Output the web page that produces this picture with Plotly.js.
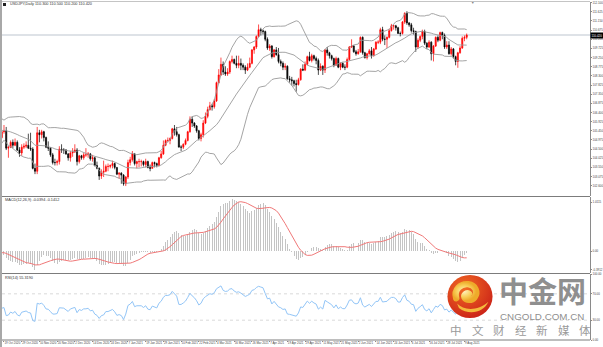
<!DOCTYPE html>
<html><head><meta charset="utf-8">
<script src="https://cdn.plot.ly/plotly-3.0.1.min.js"></script>
<style>html,body{margin:0;padding:0;background:#fff;}#chart{width:603px;height:347px;}</style>
</head><body><div id="chart"></div>
<script>
// USDJPY daily, 40 warm-up bars (24 Aug - 16 Oct 2020) then visible bars 19 Oct 2020 - 10 Aug 2021
const openP = [
105.80,105.95,106.35,105.95,106.55, 105.35,105.90,105.95,106.15,106.20, 106.25,106.25,105.95,106.10,106.15, 106.15,105.70,105.45,104.95,104.75,
104.55,104.65,104.95,105.40,105.40, 105.55,105.50,105.65,105.50,105.50, 105.30,105.75,105.70,106.00,106.00, 105.60,105.30,105.45,105.10,105.10,
105.40,105.45,104.55,104.60,104.85, 104.70,104.85,104.45,104.30,104.60, 104.65,104.70,104.55,104.50,103.50, 103.35,105.35,105.25,105.40,105.10,
104.60,104.55,104.20,103.80,103.80, 103.85,104.50,104.45,104.45,104.25, 104.05,104.30,104.35,104.45,103.85, 104.15,104.05,104.20,104.20,104.25,
104.00,104.05,103.65,103.50,103.10, 103.30,103.35,103.60,103.60, 103.65,103.75,103.55,103.20,
103.25,103.15,102.70,103.05,103.80, 103.95,104.25,103.75,103.85,103.85, 103.85,103.70,103.85,103.55,103.50, 103.80,103.75,103.65,104.05,104.25,
104.70,104.95,104.95,105.05,105.55, 105.40,105.25,104.60,104.60,104.75, 104.95,105.40,106.05,105.85,105.70, 105.45,105.05,105.25,105.85,106.20,
106.55,106.75,106.70,107.00,107.95, 108.35,108.90,108.50,108.40,108.50, 109.05,109.15,108.95,108.85,108.95, 108.85,108.75,108.60,108.75,108.95,
109.65,109.80,110.35,110.70,110.65, 110.60,110.20,109.75,109.85,109.30, 109.65,109.40,109.05,108.95,108.75, 108.80,108.15,108.10,108.05,107.90,
107.85,108.10,108.65,108.60,108.90, 109.30,109.10,109.35,109.20,109.10, 108.60,108.80,108.60,109.65,109.50, 109.35,109.20,108.85,109.20,108.75,
108.95,108.75,108.75,109.15,109.80, 109.85,109.55,109.45,109.55,110.30, 109.50,109.25,109.45,109.60,109.35, 109.70,110.05,110.05,110.70,110.20,
110.20,110.30,110.65,110.90,110.90, 110.80,110.50,110.50,111.10,111.55, 111.05,110.95,110.65,110.60,109.80, 110.15,110.35,110.60,110.00,109.80,
110.05,109.45,109.85,110.30,110.15, 110.55,110.40,109.80,109.90,109.45, 109.70,109.30,109.05,109.50,109.75, 110.25,110.30];
const highP = [
106.10,106.45,106.45,106.95,106.60, 105.95,106.00,106.25,106.55,106.50, 106.35,106.40,106.30,106.25,106.25, 106.20,105.75,105.50,104.95,104.80,
104.75,105.05,105.45,105.50,105.70, 105.70,105.80,105.75,105.70,105.70, 105.80,105.80,106.10,106.10,106.05, 105.75,105.55,105.50,105.30,105.50,
105.75,105.65,104.65,104.95,105.00, 105.05,104.95,104.60,104.75,104.80, 104.90,105.30,105.35,104.60,103.75, 105.65,105.50,105.50,105.45,105.15,
104.90,104.60,104.30,104.00,103.95, 104.65,104.75,104.55,104.50,104.30, 104.40,104.55,104.75,104.55,104.20, 104.20,104.30,104.55,104.35,104.30,
104.20,104.10,103.85,103.55,103.45, 103.90,103.70,103.75,103.70, 103.90,103.80,103.55,103.30,
103.30,103.20,103.10,103.95,104.10, 104.40,104.30,103.90,104.00,103.95, 103.90,104.00,103.90,103.70,103.85, 103.85,103.80,104.10,104.40,104.95,
105.00,105.10,105.10,105.60,105.75, 105.65,105.30,104.70,104.80,105.05, 105.45,106.20,106.20,105.90,105.75, 105.50,105.35,106.00,106.40,106.70,
106.95,106.85,107.10,108.00,108.65, 109.25,109.05,108.80,108.70,109.10, 109.35,109.20,109.35,109.35,109.20, 108.95,108.85,108.95,109.25,109.70,
109.85,110.40,110.97,110.80,110.70, 110.65,110.30,109.95,109.90,109.70, 109.80,109.75,109.15,109.05,108.95, 108.85,108.30,108.25,108.10,108.10,
108.20,108.70,108.90,109.05,109.35, 109.55,109.45,109.40,109.30,109.20, 108.95,108.85,109.70,109.80,109.55, 109.40,109.25,109.30,109.25,109.00,
109.00,108.90,109.25,109.85,110.20, 109.90,109.65,109.70,110.35,110.35, 109.55,109.50,109.70,109.80,109.75, 110.10,110.15,110.80,110.85,110.40,
110.35,110.75,111.00,110.95,110.95, 110.85,110.60,111.15,111.60,111.66, 111.10,111.05,110.80,110.65,110.25, 110.40,110.70,110.70,110.05,110.15,
110.10,109.90,110.35,110.40,110.60, 110.60,110.50,110.10,110.10,109.80, 109.75,109.35,109.55,109.85,110.35, 110.40,110.50];
const lowP = [
105.60,105.80,105.90,105.75,105.20, 105.10,105.60,105.85,106.05,106.00, 106.15,105.90,105.90,105.90,106.05, 105.65,105.30,104.85,104.55,104.30,
104.00,104.55,104.90,105.20,105.25, 105.30,105.45,105.35,105.40,104.95, 105.30,105.50,105.60,105.85,105.55, 105.30,105.25,105.00,104.85,105.05,
105.30,104.45,104.05,104.55,104.55, 104.65,104.40,104.10,104.15,104.50, 104.55,104.50,104.40,103.45,103.20, 103.20,104.85,105.05,104.90,104.55,
104.40,104.10,103.70,103.65,103.65, 103.70,104.30,104.25,104.20,103.90, 103.85,104.10,104.30,103.65,103.75, 103.95,103.95,104.10,104.05,103.90,
103.85,103.60,103.45,102.90,102.95, 103.05,103.30,103.35,103.50, 103.50,103.45,103.15,102.95,
102.70,102.60,102.58,102.95,103.65, 103.85,103.65,103.50,103.55,103.60, 103.60,103.55,103.50,103.35,103.50, 103.55,103.55,103.60,104.00,104.20,
104.65,104.85,104.75,105.00,105.20, 105.15,104.60,104.40,104.50,104.70, 104.90,105.35,105.65,105.60,105.35, 104.95,104.90,105.10,105.80,106.10,
106.50,106.50,106.60,106.95,107.90, 108.30,108.35,108.30,108.30,108.40, 108.95,108.90,108.70,108.70,108.60, 108.60,108.40,108.55,108.70,108.90,
109.45,109.70,110.30,110.40,110.45, 110.10,109.65,109.60,109.20,109.25, 109.35,108.95,108.80,108.60,108.60, 108.10,107.95,107.80,107.75,107.48,
107.80,108.05,108.55,108.55,108.85, 109.05,109.00,109.10,108.90,108.35, 108.55,108.35,108.45,109.35,109.20, 109.10,108.75,108.85,108.70,108.60,
108.70,108.60,108.70,109.10,109.75, 109.50,109.35,109.40,109.50,109.40, 109.20,109.15,109.40,109.20,109.30, 109.65,109.95,109.95,110.10,109.90,
109.75,110.25,110.60,110.70,110.65, 110.50,110.35,110.45,111.00,110.95, 110.85,110.55,110.45,109.55,109.70, 110.05,110.20,109.90,109.70,109.75,
109.10,109.05,109.80,110.05,110.10, 110.20,109.70,109.70,109.40,109.35, 109.20,108.85,108.72,109.45,109.70, 110.10,110.20];
const closeP = [
105.95,106.35,105.95,106.55,105.35, 105.90,105.95,106.15,106.20,106.25, 106.25,105.95,106.10,106.15,106.15, 105.70,105.45,104.95,104.75,104.55,
104.65,104.95,105.40,105.40,105.55, 105.50,105.65,105.50,105.50,105.30, 105.75,105.70,106.00,106.00,105.60, 105.30,105.45,105.10,105.10,105.40,
105.45,104.55,104.60,104.85,104.70, 104.85,104.45,104.30,104.60,104.65, 104.70,104.55,104.50,103.50,103.35, 105.35,105.25,105.40,105.10,104.60,
104.55,104.20,103.80,103.80,103.85, 104.50,104.45,104.45,104.25,104.05, 104.30,104.35,104.45,103.85,104.15, 104.05,104.20,104.20,104.25,104.00,
104.05,103.65,103.50,103.10,103.30, 103.35,103.60,103.60,103.65, 103.75,103.55,103.20,103.25,
103.15,102.70,103.05,103.80,103.95, 104.25,103.75,103.85,103.85,103.85, 103.70,103.85,103.55,103.50,103.80, 103.75,103.65,104.05,104.25,104.70,
104.95,104.95,105.05,105.55,105.40, 105.25,104.60,104.60,104.75,104.95, 105.40,106.05,105.85,105.70,105.45, 105.05,105.25,105.85,106.20,106.55,
106.75,106.70,107.00,107.95,108.35, 108.90,108.50,108.40,108.50,109.05, 109.15,108.95,108.85,108.95,108.85, 108.75,108.60,108.75,108.95,109.65,
109.80,110.35,110.70,110.65,110.60, 110.20,109.75,109.85,109.30,109.65, 109.40,109.05,108.95,108.75,108.80, 108.15,108.10,108.05,107.90,107.85,
108.10,108.65,108.60,108.90,109.30, 109.10,109.35,109.20,109.10,108.60, 108.80,108.60,109.65,109.50,109.35, 109.20,108.85,109.20,108.75,108.95,
108.75,108.75,109.15,109.80,109.85, 109.55,109.45,109.55,110.30,109.50, 109.25,109.45,109.60,109.35,109.70, 110.05,110.05,110.70,110.20,110.20,
110.30,110.65,110.90,110.90,110.80, 110.50,110.50,111.10,111.55,111.05, 110.95,110.65,110.60,109.80,110.15, 110.35,110.60,110.00,109.80,110.05,
109.45,109.85,110.30,110.15,110.55, 110.40,109.80,109.90,109.45,109.70, 109.30,109.05,109.50,109.75,110.25, 110.30,110.42];
const WARMUP = 40;

// bottom time-axis labels (bar index of the visible range)
const timeTickIdx = [0,8,16,24,32,40,48,56,64,72,80,88,96,104,112,120,128,136,144,152,160,168,176,184,192,200,208];
const timeTickLabels = ["19 Oct 2020","29 Oct 2020","10 Nov 2020","20 Nov 2020","2 Dec 2020","14 Dec 2020","24 Dec 2020",
 "7 Jan 2021","19 Jan 2021","29 Jan 2021","10 Feb 2021","22 Feb 2021","4 Mar 2021","16 Mar 2021","26 Mar 2021",
 "7 Apr 2021","19 Apr 2021","29 Apr 2021","11 May 2021","21 May 2021","2 Jun 2021","14 Jun 2021","24 Jun 2021",
 "6 Jul 2021","16 Jul 2021","28 Jul 2021","9 Aug 2021"];
const priceTickVals = [112.100,111.625,111.150,110.675,110.200,109.725,109.250,108.775,108.300,107.825,107.350,
 106.875,106.400,105.925,105.450,104.975,104.500,104.025,103.550,103.075,102.600];
const macdTickVals = [1.0115, 0, -0.3912];
const macdTickText = ["1.0115","0.00","-0.3912"];
const rsiTickVals = [100, 70, 30, 0];
const rsiTickText = ["100.00","70.00","30.00","0.00"];
const rsiLevels = [70, 30];
const wmChars = ["中","文","财","经","新","媒","体"];

const n = closeP.length;
const xs = closeP.map((_, i) => i - WARMUP);

// Bollinger Bands (20, 2)
const bbMid = [], bbUp = [], bbLo = [];
for (let i = 0; i < n; i++) {
  if (i < 19) { bbMid.push(null); bbUp.push(null); bbLo.push(null); continue; }
  let s = 0; for (let k = i - 19; k <= i; k++) s += closeP[k];
  const m = s / 20;
  let v = 0; for (let k = i - 19; k <= i; k++) v += (closeP[k] - m) ** 2;
  const sd = Math.sqrt(v / 20);
  bbMid.push(m); bbUp.push(m + 2 * sd); bbLo.push(m - 2 * sd);
}
// MACD (12,26,9) MT4 style: main histogram, SMA signal
const a12 = 2 / 13, a26 = 2 / 27;
let e12 = closeP[0], e26 = closeP[0];
const macd = [];
for (let i = 0; i < n; i++) {
  e12 = a12 * closeP[i] + (1 - a12) * e12;
  e26 = a26 * closeP[i] + (1 - a26) * e26;
  macd.push(e12 - e26);
}
const signal = macd.map((_, i) => {
  if (i < 8) return null;
  let s = 0; for (let k = i - 8; k <= i; k++) s += macd[k];
  return s / 9;
});
// RSI(14) Wilder
const rsi = new Array(n).fill(null);
let ag = 0, al = 0;
for (let i = 1; i <= 14; i++) { const d = closeP[i] - closeP[i - 1]; if (d > 0) ag += d; else al -= d; }
ag /= 14; al /= 14;
rsi[14] = 100 - 100 / (1 + ag / al);
for (let i = 15; i < n; i++) {
  const d = closeP[i] - closeP[i - 1];
  ag = (ag * 13 + Math.max(d, 0)) / 14;
  al = (al * 13 + Math.max(-d, 0)) / 14;
  rsi[i] = al === 0 ? 100 : 100 - 100 / (1 + ag / al);
}

const last = n - 1;
const PL = 2, PT = 2, PW = 588, PH = 338;
const fx = p => (p - PL) / PW;
const fy = p => 1 - (p - PT) / PH;
const FAM = 'Liberation Sans, Arial, sans-serif';
const tf = {family: FAM, size: 2.9, color: '#444'};

const traces = [
  {type: 'candlestick', x: xs, open: openP, high: highP, low: lowP, close: closeP, xaxis: 'x', yaxis: 'y',
   increasing: {line: {color: '#ff0000', width: 0.7}, fillcolor: '#ff0000'},
   decreasing: {line: {color: '#000000', width: 0.7}, fillcolor: '#000000'},
   whiskerwidth: 0, hoverinfo: 'none'},
  {type: 'scatter', mode: 'lines', x: xs, y: bbUp, yaxis: 'y', line: {color: '#9a9a9a', width: 0.9}, hoverinfo: 'none'},
  {type: 'scatter', mode: 'lines', x: xs, y: bbMid, yaxis: 'y', line: {color: '#9a9a9a', width: 0.9}, hoverinfo: 'none'},
  {type: 'scatter', mode: 'lines', x: xs, y: bbLo, yaxis: 'y', line: {color: '#9a9a9a', width: 0.9}, hoverinfo: 'none'},
  {type: 'bar', x: xs, y: macd, yaxis: 'y2', width: 0.45, marker: {color: '#c4c4c4', line: {width: 0}}, hoverinfo: 'none'},
  {type: 'scatter', mode: 'lines', x: xs, y: signal, yaxis: 'y2', line: {color: '#f07878', width: 1}, hoverinfo: 'none'},
  {type: 'scatter', mode: 'lines', x: xs, y: rsi, yaxis: 'y3', line: {color: '#92c5f7', width: 1}, hoverinfo: 'none'}
];

const yBase = {side: 'right', anchor: 'x', showline: true, linecolor: '#8a8a8a', linewidth: 1,
  ticks: 'outside', ticklen: 1, tickcolor: '#8a8a8a', tickfont: tf, showgrid: false, zeroline: false,
  fixedrange: true, tickmode: 'array'};

const svg = "<svg xmlns='http://www.w3.org/2000/svg' width='100' height='100' viewBox='0 0 50 50'>" +
 "<defs><radialGradient id='g' cx='38%' cy='30%' r='80%'><stop offset='0' stop-color='#f26b23'/><stop offset='1' stop-color='#c81d17'/></radialGradient>" +
 "<radialGradient id='y' cx='40%' cy='45%' r='60%'><stop offset='0' stop-color='#fff3c4'/><stop offset='0.6' stop-color='#f8cf5a'/><stop offset='1' stop-color='#eeaa2a'/></radialGradient></defs>" +
 "<circle cx='25' cy='25' r='24.5' fill='url(#g)'/>" +
 "<path d='M10 27 C7 17 15 10 23 11 C31 12 34 20 30 26 C27 30 21 30 19 26 C18 23 21 20 24 22' fill='none' stroke='url(#y)' stroke-width='7' stroke-linecap='round'/>" +
 "<path d='M11 33 C18 41 33 42 45 31 C40 43 24 47 13 38 Z' fill='#f4b93c'/>" +
 "</svg>";

const annotations = [
  {xref: 'paper', yref: 'paper', x: fx(8), y: fy(4.5), xanchor: 'left', yanchor: 'middle', showarrow: false,
   text: 'USDJPY,Daily ' + openP[last].toFixed(3) + ' ' + highP[last].toFixed(3) + ' ' + lowP[last].toFixed(3) + ' ' + closeP[last].toFixed(3),
   font: {family: FAM, size: 3.8, color: '#333'}},
  {xref: 'paper', yref: 'paper', x: fx(3), y: fy(200), xanchor: 'left', yanchor: 'middle', showarrow: false,
   text: 'MACD(12,26,9) ' + macd[last].toFixed(4) + ' ' + signal[last].toFixed(4), font: {family: FAM, size: 3.8, color: '#333'}},
  {xref: 'paper', yref: 'paper', x: fx(3), y: fy(277.5), xanchor: 'left', yanchor: 'middle', showarrow: false,
   text: 'RSI(14) ' + rsi[last].toFixed(4), font: {family: FAM, size: 3.8, color: '#333'}},
  {xref: 'paper', yref: 'y', x: 1, y: closeP[last], xanchor: 'left', yanchor: 'middle', showarrow: false,
   text: closeP[last].toFixed(3), bgcolor: '#000', borderpad: 0.6, font: {family: FAM, size: 2.9, color: '#fff'}},
  {xref: 'paper', yref: 'paper', x: fx(472), y: fy(2.5), xanchor: 'center', yanchor: 'middle', showarrow: false,
   text: '▼', font: {size: 3.5, color: '#888'}},
  {xref: 'paper', yref: 'paper', x: fx(542), y: fy(290), xanchor: 'center', yanchor: 'middle', showarrow: false,
   text: '<b>中金网</b>', font: {family: 'Noto Sans CJK SC', size: 29, color: '#8f8f8f'}},
  {xref: 'paper', yref: 'paper', x: fx(542), y: fy(316.5), xanchor: 'center', yanchor: 'middle', showarrow: false,
   text: 'CNGOLD.COM.CN', font: {family: FAM, size: 9.8, color: '#8f8f8f'}}
];
wmChars.forEach((ch, k) => annotations.push({xref: 'paper', yref: 'paper', x: fx(456 + k * 21.5), y: fy(329.5),
  xanchor: 'center', yanchor: 'middle', showarrow: false, text: ch,
  font: {family: 'Noto Sans CJK SC', size: 11.5, color: '#9a9a9a'}}));

const hline = (py, color, w) => ({type: 'line', xref: 'paper', yref: 'paper', x0: fx(2), x1: 1, y0: fy(py), y1: fy(py), line: {color: color, width: w}});
const shapes = [
  {type: 'rect', xref: 'paper', yref: 'paper', x0: fx(0), x1: fx(2), y0: fy(347), y1: fy(0), fillcolor: '#a8a8a8', line: {width: 0}},
  {type: 'rect', xref: 'paper', yref: 'paper', x0: fx(3), x1: fx(6), y0: fy(6), y1: fy(3), fillcolor: '#222', line: {width: 0}},
  hline(1.5, '#c4c4c4', 1),
  hline(196.5, '#7c7c7c', 1.2),
  hline(273.5, '#7c7c7c', 1.2),
  hline(340, '#7c7c7c', 1),
  {type: 'line', xref: 'paper', yref: 'y', x0: 0, x1: 1, y0: closeP[last], y1: closeP[last], layer: 'below', line: {color: '#d3d9df', width: 1.6}}
];
rsiLevels.forEach(v => shapes.push({type: 'line', xref: 'paper', yref: 'y3', x0: 0, x1: 1, y0: v, y1: v, layer: 'below',
  line: {color: '#cfcfcf', width: 0.8, dash: 'dot'}}));

const layout = {
  width: 603, height: 347, margin: {l: 2, r: 13, t: 2, b: 7, pad: 0},
  paper_bgcolor: '#fff', plot_bgcolor: '#fff', showlegend: false, dragmode: false, bargap: 0,
  xaxis: {anchor: 'y3', domain: [0, 1], range: [-0.9, 264.7], tickmode: 'array', tickvals: timeTickIdx, ticktext: timeTickLabels,
    tickangle: 0, tickfont: {family: FAM, size: 2.9, color: '#444'}, ticks: 'outside', ticklen: 1, tickcolor: '#8a8a8a',
    ticklabelposition: 'outside right', showgrid: false, zeroline: false, showline: false,
    rangeslider: {visible: false}, fixedrange: true},
  yaxis: Object.assign({}, yBase, {domain: [fy(196), 1], range: [102.065, 112.136], tickvals: priceTickVals,
    ticktext: priceTickVals.map(v => v.toFixed(3))}),
  yaxis2: Object.assign({}, yBase, {domain: [fy(273), fy(197)], range: [-0.456, 1.12], tickvals: macdTickVals, ticktext: macdTickText}),
  yaxis3: Object.assign({}, yBase, {domain: [0, fy(274)], range: [0, 100], tickvals: rsiTickVals, ticktext: rsiTickText}),
  shapes: shapes,
  annotations: annotations,
  images: [{source: 'data:image/svg+xml;charset=utf-8,' + encodeURIComponent(svg), xref: 'paper', yref: 'paper',
    x: fx(447), y: fy(274.5), sizex: 46 / PW, sizey: 44 / PH, xanchor: 'left', yanchor: 'top', sizing: 'stretch', layer: 'above'}]
};

Plotly.newPlot('chart', traces, layout, {staticPlot: true, displayModeBar: false});
</script></body></html>
